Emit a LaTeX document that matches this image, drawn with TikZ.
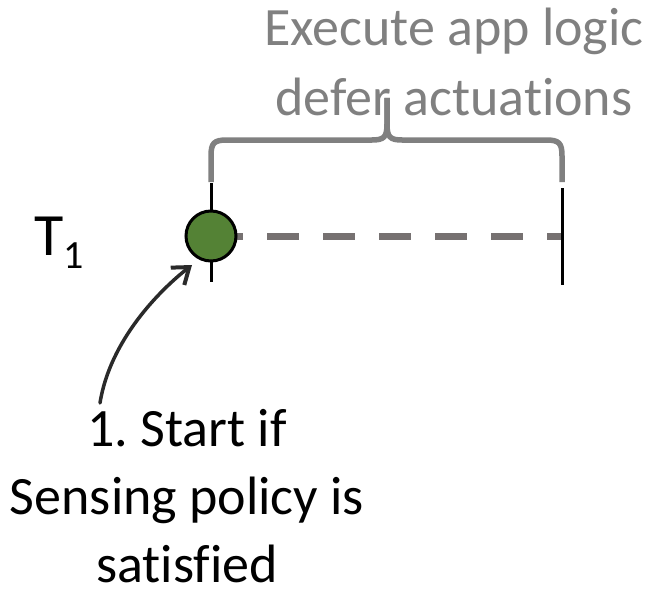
\documentclass[tikz,border=0pt]{standalone}
\usepackage{fontspec}
\setmainfont{Carlito}[Ligatures=NoCommon]
\usetikzlibrary{arrows.meta}
\definecolor{braceGray}{HTML}{808080}
\definecolor{dashGray}{HTML}{767171}
\definecolor{startGreen}{HTML}{548235}
\definecolor{arrowInk}{HTML}{2A2A2A}
\frenchspacing
\begin{document}
\begin{tikzpicture}[x=1pt,y=-1pt,
  bigtext/.style={inner sep=0pt, align=center},
  tick/.style={line width=3pt, black},
  timeline/.style={line width=7pt, dashGray, dash pattern=on 32pt off 24pt},
  bracestroke/.style={line width=5.5pt, braceGray},
  startdot/.style={circle, draw=black, line width=3pt, fill=startGreen, minimum size=50pt, inner sep=0pt},
  pointer/.style={line width=3.5pt, arrowInk, line cap=round, -{Straight Barb[length=15pt, width=22pt, line width=4pt]}}]
  \useasboundingbox (0,0) rectangle (663,591);

  % timeline anchors
  \coordinate (t0) at (211,236);
  \coordinate (t0top) at (211,183);
  \coordinate (t0bot) at (211,282);
  \coordinate (t1) at (562,236);
  \coordinate (t1top) at (562,188);
  \coordinate (t1bot) at (562,285);

  % dashed timeline and boundary ticks
  \draw[timeline] (t0) -- (t1);
  \draw[tick] (t0top) -- (t0bot);
  \draw[tick] (t1top) -- (t1bot);

  % start event
  \node[startdot] (start) at (t0) {};

  % thread label
  \node[font=\fontsize{60}{60}\selectfont, inner sep=0pt, anchor=base west] (thread) at (34,255)
    {T\raisebox{-13pt}{\fontsize{40}{40}\selectfont 1}};

  % curly brace over the execution interval
  \coordinate (bl) at (211,182);
  \coordinate (br) at (562,182);
  \coordinate (btip) at (387,98);
  \draw[bracestroke] (bl) -- (211,156) .. controls (211,143) and (214,140) .. (227,140)
    -- (372,140) .. controls (384,140) and (387,137) .. (387,124) -- (btip);
  \draw[bracestroke] (btip) -- (387,124) .. controls (387,137) and (390,140) .. (402,140)
    -- (546,140) .. controls (559,140) and (562,143) .. (562,156) -- (br);

  % labels (base anchor sits on the last line)
  \node[bigtext, font=\fontsize{54}{70}\selectfont, text=braceGray, anchor=base] (phase) at (454,115)
    {Execute app logic\\defer actuations};
  \node[bigtext, font=\fontsize{54}{68}\selectfont, anchor=base] (cond) at (187,582)
    {1. Start if\\Sensing policy is\\satisfied};

  % hand-drawn pointer to the start event
  \coordinate (ptail) at (100,403);
  \coordinate (phead) at (192,265);
  \draw[pointer] (ptail) .. controls (110,340) and (160,290) .. (phead);
\end{tikzpicture}
\end{document}
